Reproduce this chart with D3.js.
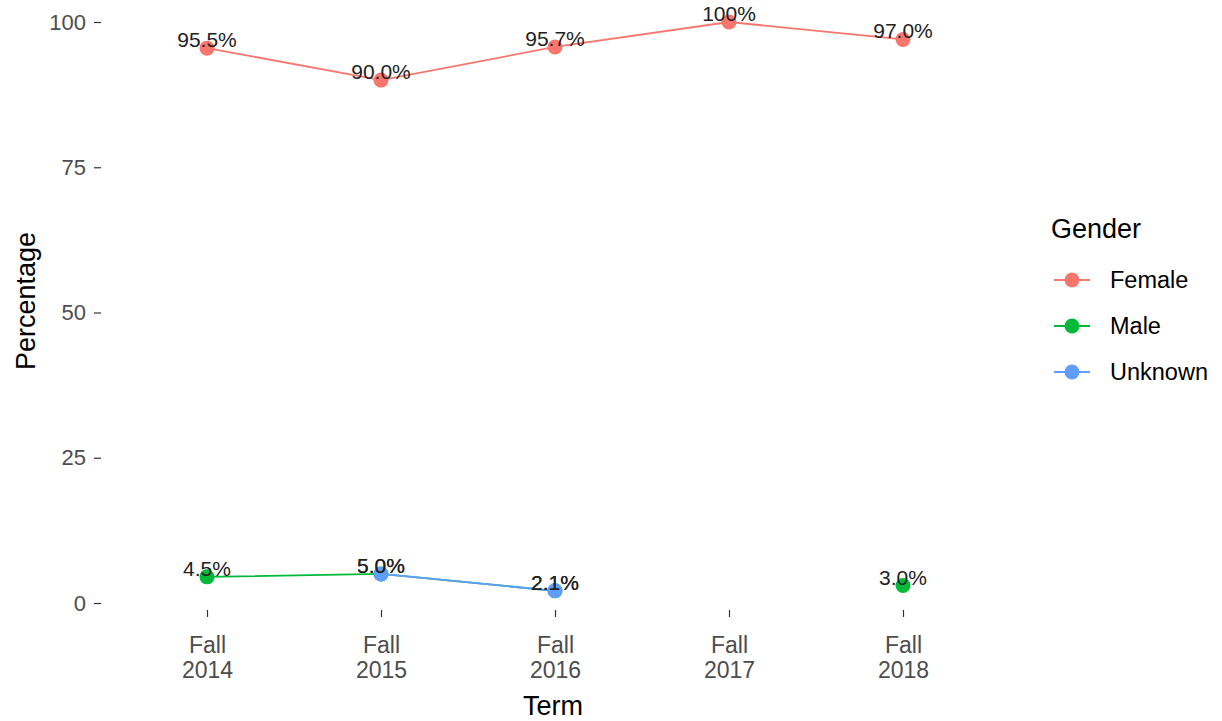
<!DOCTYPE html>
<html>
<head>
<meta charset="utf-8">
<style>
  body { margin: 0; background: #fff; }
  svg { font-family: "Liberation Sans", Arial, sans-serif; }
</style>
</head>
<body>
<svg width="1222" height="721"></svg>
<script src="https://d3js.org/d3.v7.min.js"></script>
<script>

    var terms   = ["Fall\n2014", "Fall\n2015", "Fall\n2016", "Fall\n2017", "Fall\n2018"];
    var female  = [95.5, 90.0, 95.7, 100, 97.0];
    var male    = [4.5, 5.0, 2.1, null, 3.0];
    var unknown = [null, 5.0, 2.1, null, null];
    var yTicks  = [0, 25, 50, 75, 100];

    var groups = [
        { name: "Female",  values: female,  color: "#F8766D" },
        { name: "Male",    values: male,    color: "#00BA38" },
        { name: "Unknown", values: unknown, color: "#619CFF" }
    ];

    var svg = d3.select("svg");

    /* --------------------
     Scales
   -------------------- */
    var x = d3.scalePoint()
        .domain(terms)
        .range([207, 903]);

    var y = d3.scaleLinear()
        .domain([0, 100])
        .range([603, 22]);

    function fmt(v) {
        return v === 100 ? "100%" : v.toFixed(1) + "%";
    }

    // y axis
    var yAxis = svg.append("g")
        .attr("transform", "translate(101,0)")
        .call(d3.axisLeft(y).tickValues(yTicks).tickSize(7).tickPadding(8));
    yAxis.select(".domain").remove();
    yAxis.selectAll("line").attr("stroke", "#333").attr("stroke-width", 1.2);
    yAxis.selectAll("text")
        .attr("fill", "#4D4D4D")
        .style("font-size", "22px")
        .style("font-family", "Liberation Sans, Arial, sans-serif");

    // x axis
    var xAxis = svg.append("g")
        .attr("transform", "translate(0,610)")
        .call(d3.axisBottom(x).tickSize(7).tickFormat(""));
    xAxis.select(".domain").remove();
    xAxis.selectAll("line").attr("stroke", "#333").attr("stroke-width", 1.2);

    xAxis.selectAll(".tick").each(function(d) {
        var t = d3.select(this).append("text")
            .attr("fill", "#4D4D4D")
            .attr("text-anchor", "middle")
            .style("font-size", "23px");
        d.split("\n").forEach(function(line, i) {
            t.append("tspan")
                .attr("x", 0)
                .attr("y", 43 + i * 25)
                .text(line);
        });
    });

    // axis titles
    svg.append("text")
        .attr("x", 553)
        .attr("y", 715)
        .attr("text-anchor", "middle")
        .style("font-size", "27px")
        .attr("fill", "#000")
        .text("Term");

    svg.append("text")
        .attr("transform", "translate(35,301) rotate(-90)")
        .attr("text-anchor", "middle")
        .style("font-size", "27px")
        .attr("fill", "#000")
        .text("Percentage");

    /* --------------------
     Lines & points
   -------------------- */
    var line = d3.line()
        .defined(function(d) { return d.v !== null; })
        .x(function(d) { return x(d.t); })
        .y(function(d) { return y(d.v); });

    groups.forEach(function(g) {
        var pts = g.values.map(function(v, i) { return { t: terms[i], v: v }; });

        svg.append("path")
            .datum(pts)
            .attr("fill", "none")
            .attr("stroke", g.color)
            .attr("stroke-width", 1.8)
            .attr("d", line);

        svg.append("g").selectAll("circle")
            .data(pts.filter(function(d) { return d.v !== null; }))
            .enter().append("circle")
            .attr("cx", function(d) { return x(d.t); })
            .attr("cy", function(d) { return y(d.v); })
            .attr("r", 7.5)
            .attr("fill", g.color);
    });

    // value labels
    groups.forEach(function(g) {
        var pts = g.values.map(function(v, i) { return { t: terms[i], v: v }; })
            .filter(function(d) { return d.v !== null; });
        svg.append("g").selectAll("text")
            .data(pts)
            .enter().append("text")
            .attr("x", function(d) { return x(d.t); })
            .attr("y", function(d) { return y(d.v) - 1; })
            .attr("text-anchor", "middle")
            .style("font-size", "21px")
            .attr("fill", "#222")
            .text(function(d) { return fmt(d.v); });
    });

    /* --------------------
     Legend
   -------------------- */
    var legend = svg.append("g").attr("transform", "translate(1051,0)");
    legend.append("text")
        .attr("x", 0)
        .attr("y", 238)
        .style("font-size", "27px")
        .attr("fill", "#000")
        .text("Gender");

    var items = legend.selectAll(".item")
        .data(groups)
        .enter().append("g")
        .attr("class", "item")
        .attr("transform", function(d, i) { return "translate(0," + (280 + i * 46) + ")"; });

    items.append("line")
        .attr("x1", 3).attr("x2", 39)
        .attr("stroke", function(d) { return d.color; })
        .attr("stroke-width", 1.8);
    items.append("circle")
        .attr("cx", 21)
        .attr("r", 7.5)
        .attr("fill", function(d) { return d.color; });
    items.append("text")
        .attr("x", 59)
        .attr("y", 8)
        .style("font-size", "23.5px")
        .attr("fill", "#000")
        .text(function(d) { return d.name; });

</script>
</body>
</html>
